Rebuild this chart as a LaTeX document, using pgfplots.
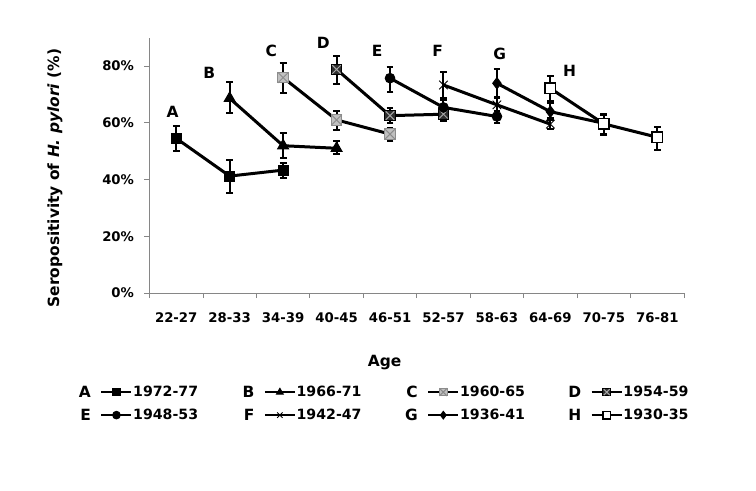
\documentclass[border=0pt]{standalone}
\usepackage{fontspec}
\setmainfont{DejaVu Sans}
\usepackage{pgfplots}
\pgfplotsset{compat=1.18}
\usepackage{pgfplotstable}

\definecolor{axgray}{HTML}{868686}
\definecolor{cfill}{HTML}{C0C0C0}
\definecolor{cline}{HTML}{8C8C8C}
\definecolor{dfill}{HTML}{2E2E2E}
\definecolor{dx}{HTML}{A6A6A6}

\pgfdeclareplotmark{sqxC}{%
  \pgfscope
  \pgfsetfillcolor{cfill}\pgfsetstrokecolor{cline}%
  \pgfpathrectangle{\pgfqpoint{-\pgfplotmarksize}{-\pgfplotmarksize}}{\pgfqpoint{2\pgfplotmarksize}{2\pgfplotmarksize}}%
  \pgfusepathqfillstroke
  \pgfpathmoveto{\pgfqpoint{-\pgfplotmarksize}{-\pgfplotmarksize}}%
  \pgfpathlineto{\pgfqpoint{\pgfplotmarksize}{\pgfplotmarksize}}%
  \pgfpathmoveto{\pgfqpoint{-\pgfplotmarksize}{\pgfplotmarksize}}%
  \pgfpathlineto{\pgfqpoint{\pgfplotmarksize}{-\pgfplotmarksize}}%
  \pgfusepathqstroke
  \endpgfscope}
\pgfdeclareplotmark{sqxD}{%
  \pgfscope
  \pgfsetfillcolor{dfill}\pgfsetstrokecolor{black}%
  \pgfpathrectangle{\pgfqpoint{-\pgfplotmarksize}{-\pgfplotmarksize}}{\pgfqpoint{2\pgfplotmarksize}{2\pgfplotmarksize}}%
  \pgfusepathqfillstroke
  \pgfsetstrokecolor{dx}%
  \pgfpathmoveto{\pgfqpoint{-0.8\pgfplotmarksize}{-0.8\pgfplotmarksize}}%
  \pgfpathlineto{\pgfqpoint{0.8\pgfplotmarksize}{0.8\pgfplotmarksize}}%
  \pgfpathmoveto{\pgfqpoint{-0.8\pgfplotmarksize}{0.8\pgfplotmarksize}}%
  \pgfpathlineto{\pgfqpoint{0.8\pgfplotmarksize}{-0.8\pgfplotmarksize}}%
  \pgfusepathqstroke
  \endpgfscope}

\newcommand{\tickfont}{\fontsize{13.3}{15}\selectfont\bfseries}
\newcommand{\legfont}{\fontsize{14.2}{16}\selectfont\bfseries}
\newcommand{\letfont}{\fontsize{15.5}{18}\selectfont\bfseries}
\newcommand{\labfont}{\fontsize{15.5}{18}\selectfont\bfseries}

\pgfplotstableread{
x y ep em
0 54.5 4.4 4.5
1 41.2 5.7 6.1
2 43.3 2.6 2.9
}\tA
\pgfplotstableread{
x y ep em
1 68.6 5.9 5.1
2 51.9 4.6 4.2
3 51.0 2.4 2.0
}\tB
\pgfplotstableread{
x y ep em
2 75.9 5.0 5.3
3 61.0 3.3 3.6
4 56.0 2.2 2.4
}\tC
\pgfplotstableread{
x y ep em
3 78.8 4.8 5.1
4 62.5 2.6 2.7
5 63.0 2.5 2.5
}\tD
\pgfplotstableread{
x y ep em
4 75.7 4.1 4.7
5 65.4 2.6 2.6
6 62.2 1.8 2.2
}\tE
\pgfplotstableread{
x y ep em
5 73.3 4.7 4.7
6 66.3 2.3 2.3
7 59.5 2.0 1.7
}\tF
\pgfplotstableread{
x y ep em
6 73.9 5.0 5.0
7 63.9 2.9 2.9
8 59.8 3.3 4.1
}\tG
\pgfplotstableread{
x y ep em
7 72.1 4.5 4.5
8 59.6 3.3 3.5
9 54.9 3.7 4.5
}\tH

\pgfplotsset{
  ser/.style={black, line width=3bp,
    error bars/y dir=both, error bars/y explicit,
    error bars/error bar style={line width=2bp, black, solid},
    error bars/error mark options={rotate=90, line width=2bp, mark size=3.4bp, black}},
  leg/.style={legend image code/.code={%
    \node[overlay,anchor=east,font=\letfont,inner sep=0pt] at (-9bp,0bp) {#1};
    \draw[mark repeat=2,mark phase=2,##1,line width=2.5bp,mark size=3.8bp]
      plot coordinates {(0bp,0bp) (15bp,0bp) (30bp,0bp)};}},
}

\begin{document}
\begin{tikzpicture}
\useasboundingbox (-149.5bp,-198bp) rectangle (606.5bp,293bp);
\begin{axis}[
  scale only axis, width=534.5bp, height=255.4bp,
  at={(0bp,0bp)}, anchor=south west,
  xmin=-0.5, xmax=9.5, ymin=0, ymax=90, clip=false,
  axis lines*=left, axis line style={axgray, line width=0.8bp, -},
  xtick={-0.5,0.5,...,9.5}, x tick label as interval,
  xticklabels={22-27,28-33,34-39,40-45,46-51,52-57,58-63,64-69,70-75,76-81},
  ytick={0,20,40,60,80}, yticklabel={\pgfmathprintnumber{\tick}\%},
  tick align=outside, major tick length=5bp,
  tick style={axgray, line width=0.8bp},
  tick label style={font=\tickfont},
  xticklabel style={yshift=-11bp},
  yticklabel style={xshift=-7bp},
  /pgf/number format/assume math mode=true,
  xlabel={Age},
  ylabel={Seropositivity of \textit{H. pylori} (\%)},
  label style={font=\labfont},
  xlabel style={at={(axis description cs:0.44,-0.272)}, anchor=center},
  ylabel style={at={(axis description cs:-0.177,0.45)}, anchor=center, rotate=0},
  legend columns=4,
  legend cell align=left,
  legend style={draw=none, fill=none, inner sep=0pt,
    at={(axis description cs:-0.0926,-0.36)}, anchor=north west,
    font=\legfont, row sep=9bp,
    nodes={inner xsep=0.5bp, inner ysep=1bp},
    /tikz/every even column/.append style={column sep=65bp}},
]
\addplot[ser, mark=square*, mark size=5bp, mark options={solid, line width=1bp, fill=black}, leg=A]
  table[x=x,y=y,y error plus=ep,y error minus=em]{\tA};
\addlegendentry{1972-77}
\addplot[ser, mark=triangle*, mark size=6.3bp, mark options={solid, line width=1bp, fill=black}, leg=B]
  table[x=x,y=y,y error plus=ep,y error minus=em]{\tB};
\addlegendentry{1966-71}
\addplot[ser, mark=sqxC, mark size=5.3bp, mark options={solid, line width=1bp}, leg=C]
  table[x=x,y=y,y error plus=ep,y error minus=em]{\tC};
\addlegendentry{1960-65}
\addplot[ser, mark=sqxD, mark size=5.3bp, mark options={solid, line width=1bp}, leg=D]
  table[x=x,y=y,y error plus=ep,y error minus=em]{\tD};
\addlegendentry{1954-59}
\addplot[ser, mark=*, mark size=4.8bp, mark options={solid, line width=1bp, fill=black}, leg=E]
  table[x=x,y=y,y error plus=ep,y error minus=em]{\tE};
\addlegendentry{1948-53}
\addplot[ser, mark=x, mark size=6bp, mark options={solid, line width=0.9bp, black}, leg=F]
  table[x=x,y=y,y error plus=ep,y error minus=em]{\tF};
\addlegendentry{1942-47}
\addplot[ser, mark=diamond*, mark size=5.6bp, mark options={solid, line width=1bp, fill=black}, leg=G]
  table[x=x,y=y,y error plus=ep,y error minus=em]{\tG};
\addlegendentry{1936-41}
\addplot[ser, mark=square*, mark size=5.2bp, mark options={solid, line width=1.6bp, fill=white, draw=black}, leg=H]
  table[x=x,y=y,y error plus=ep,y error minus=em]{\tH};
\addlegendentry{1930-35}

\node[font=\letfont] at (axis cs:-0.07,63.8) {A};
\node[font=\letfont] at (axis cs:0.62,77.5) {B};
\node[font=\letfont] at (axis cs:1.78,85.3) {C};
\node[font=\letfont] at (axis cs:2.75,88.1) {D};
\node[font=\letfont] at (axis cs:3.76,85.3) {E};
\node[font=\letfont] at (axis cs:4.89,85.3) {F};
\node[font=\letfont] at (axis cs:6.05,84.2) {G};
\node[font=\letfont] at (axis cs:7.36,78.2) {H};
\end{axis}
\end{tikzpicture}
\end{document}
